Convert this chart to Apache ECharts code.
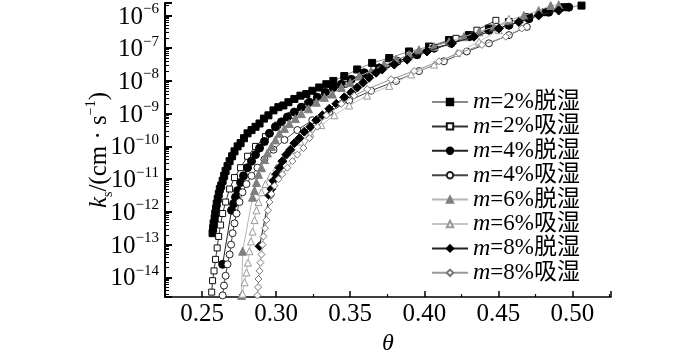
<!DOCTYPE html>
<html><head><meta charset="utf-8">
<script src="https://cdn.jsdelivr.net/npm/echarts@6/dist/echarts.min.js"></script>
<style>html,body{margin:0;padding:0;background:#fff}#c{width:700px;height:361px}</style>
</head><body><div id="c"></div>
<script>
// ---- Data (theta = volumetric water content, ks = hydraulic conductivity, cm/s) ----
const names = ['m=2%脱湿','m=2%吸湿','m=4%脱湿','m=4%吸湿','m=6%脱湿','m=6%吸湿','m=8%脱湿','m=8%吸湿'];
const xTicks = [0.25,0.30,0.35,0.40,0.45,0.50];
const yTickExponents = [-14,-13,-12,-11,-10,-9,-8,-7,-6];

const theta_2_de = [0.2571,0.2575,0.2578,0.2585,0.2589,0.2595,0.2599,0.2606,0.2613,0.2620,0.2629,0.2639,0.2649,0.2659,0.2672,0.2686,0.2703,0.2719,0.2740,0.2760,0.2783,0.2807,0.2834,0.2861,0.2888,0.2918,0.2948,0.2982,0.3015,0.3049,0.3083,0.3123,0.3164,0.3204,0.3245,0.3291,0.3339,0.3386,0.3460,0.3547,0.3648,0.3763,0.3897,0.4032,0.4167,0.4301,0.4436,0.4571,0.4705,0.4819,0.4940,0.5061];
const ks_2_de = [2.24e-13,3.16e-13,4.47e-13,6.31e-13,8.91e-13,1.26e-12,1.78e-12,2.51e-12,3.55e-12,5.01e-12,6.31e-12,8.91e-12,1.26e-11,1.78e-11,2.51e-11,3.55e-11,5.01e-11,7.08e-11,1.0e-10,1.26e-10,1.78e-10,2.51e-10,3.16e-10,3.98e-10,5.01e-10,7.08e-10,8.91e-10,1.26e-9,1.58e-9,1.78e-9,2.24e-9,2.82e-9,3.55e-9,3.98e-9,5.01e-9,6.31e-9,7.94e-9,1.0e-8,1.41e-8,2.24e-8,3.55e-8,5.01e-8,7.94e-8,1.12e-7,1.78e-7,2.51e-7,3.98e-7,6.31e-7,8.91e-7,1.26e-6,1.78e-6,2.0e-6];

const theta_2_ab = [0.2565,0.2571,0.2581,0.2591,0.2602,0.2612,0.2625,0.2639,0.2659,0.2686,0.2719,0.2760,0.2807,0.2861,0.2928,0.3009,0.3103,0.3211,0.3332,0.3460,0.3595,0.3743,0.3897,0.4052,0.4214,0.4355,0.4483];
const ks_2_ab = [3.55e-15,7.94e-15,1.58e-14,3.55e-14,7.94e-14,1.78e-13,3.98e-13,8.91e-13,2.0e-12,5.01e-12,1.12e-11,2.24e-11,5.01e-11,1.0e-10,2.0e-10,4.47e-10,8.91e-10,2.0e-9,3.98e-9,7.94e-9,1.58e-8,3.16e-8,6.31e-8,1.12e-7,2.0e-7,3.55e-7,7.08e-7];

const theta_4_de = [0.2639,0.2699,0.2713,0.2726,0.2740,0.2760,0.2780,0.2807,0.2834,0.2861,0.2888,0.2921,0.2955,0.2995,0.3036,0.3076,0.3123,0.3170,0.3224,0.3278,0.3332,0.3386,0.3440,0.3507,0.3595,0.3696,0.3817,0.3951,0.4066,0.4181,0.4302,0.4437,0.4571,0.4706,0.4840,0.4975];
const ks_4_de = [2.51e-14,1.12e-12,1.78e-12,2.82e-12,4.47e-12,7.94e-12,1.26e-11,2.24e-11,3.55e-11,5.62e-11,8.91e-11,1.41e-10,2.51e-10,3.98e-10,5.62e-10,7.94e-10,1.12e-9,1.58e-9,2.24e-9,3.16e-9,4.47e-9,6.31e-9,7.94e-9,1.12e-8,1.78e-8,2.51e-8,3.98e-8,6.31e-8,1.0e-7,1.41e-7,2.24e-7,3.55e-7,5.01e-7,7.94e-7,1.26e-6,1.78e-6];

const theta_4_ab = [0.2639,0.2648,0.2659,0.2672,0.2686,0.2696,0.2706,0.2719,0.2733,0.2753,0.2773,0.2800,0.2834,0.2874,0.2921,0.2982,0.3056,0.3143,0.3244,0.3359,0.3493,0.3641,0.3810,0.3964,0.4132,0.4287,0.4436,0.4571,0.4692];
const ks_4_ab = [2.82e-15,5.62e-15,1.12e-14,2.51e-14,5.01e-14,1.0e-13,2.24e-13,4.47e-13,8.91e-13,2.0e-12,3.98e-12,7.08e-12,1.26e-11,2.24e-11,3.98e-11,7.94e-11,1.58e-10,3.16e-10,6.31e-10,1.12e-9,2.51e-9,5.01e-9,1.0e-8,2.0e-8,3.98e-8,7.94e-8,1.41e-7,2.51e-7,4.47e-7];

const theta_6_de = [0.2767,0.2774,0.2841,0.2854,0.2867,0.2881,0.2901,0.2921,0.2941,0.2968,0.2995,0.3022,0.3056,0.3089,0.3130,0.3170,0.3218,0.3271,0.3325,0.3379,0.3440,0.3500,0.3561,0.3641,0.3729,0.3810,0.3897,0.3964,0.4066,0.4167,0.4268,0.4369,0.4470,0.4571,0.4672,0.4772,0.4853,0.4907];
const ks_6_de = [2.82e-15,6.31e-14,2.82e-12,4.47e-12,7.94e-12,1.41e-11,2.24e-11,3.98e-11,6.31e-11,1.0e-10,1.58e-10,2.51e-10,3.55e-10,5.01e-10,7.08e-10,1.0e-9,1.41e-9,2.24e-9,3.16e-9,3.98e-9,6.31e-9,8.91e-9,1.41e-8,2.0e-8,3.16e-8,4.47e-8,6.31e-8,8.91e-8,1.12e-7,1.58e-7,2.24e-7,3.16e-7,4.47e-7,7.08e-7,1.0e-6,1.41e-6,2.0e-6,2.1e-6];

const theta_6_ab = [0.2773,0.2787,0.2800,0.2810,0.2820,0.2830,0.2841,0.2854,0.2867,0.2881,0.2901,0.2928,0.2962,0.3002,0.3049,0.3103,0.3164,0.3231,0.3305,0.3393,0.3493,0.3614,0.3763,0.3911,0.4066,0.4221,0.4369,0.4503,0.4571];
const ks_6_ab = [3.16e-15,7.08e-15,1.41e-14,2.82e-14,6.31e-14,1.26e-13,2.51e-13,5.62e-13,1.12e-12,2.0e-12,3.98e-12,7.08e-12,1.26e-11,2.24e-11,3.98e-11,7.94e-11,1.41e-10,2.51e-10,4.47e-10,8.91e-10,1.78e-9,3.55e-9,7.08e-9,1.58e-8,3.16e-8,7.08e-8,1.58e-7,3.55e-7,7.94e-7];

const theta_8_de = [0.2888,0.2955,0.2968,0.2982,0.3002,0.3022,0.3042,0.3069,0.3096,0.3123,0.3157,0.3190,0.3231,0.3271,0.3312,0.3359,0.3406,0.3460,0.3507,0.3548,0.3588,0.3628,0.3675,0.3716,0.3797,0.3884,0.4018,0.4187,0.4335,0.4503,0.4638,0.4772,0.4907];
const ks_8_de = [8.91e-14,3.16e-12,5.01e-12,8.91e-12,1.41e-11,2.24e-11,3.55e-11,5.62e-11,7.94e-11,1.26e-10,1.78e-10,2.82e-10,3.98e-10,6.31e-10,8.91e-10,1.41e-9,2.0e-9,3.16e-9,4.47e-9,6.31e-9,8.91e-9,1.26e-8,1.78e-8,2.24e-8,3.16e-8,4.47e-8,7.94e-8,1.41e-7,2.24e-7,3.98e-7,6.31e-7,1.0e-6,1.41e-6];

const theta_8_ab = [0.2874,0.2878,0.2881,0.2888,0.2894,0.2901,0.2908,0.2915,0.2925,0.2935,0.2945,0.2955,0.2968,0.2989,0.3016,0.3042,0.3076,0.3110,0.3143,0.3184,0.3224,0.3278,0.3339,0.3440,0.3527,0.3615,0.3776,0.3931,0.4099,0.4234,0.4389,0.4550,0.4658];
const ks_8_ab = [2.82e-15,5.01e-15,8.91e-15,1.58e-14,2.82e-14,5.01e-14,1.0e-13,1.78e-13,3.16e-13,5.62e-13,1.12e-12,2.0e-12,3.55e-12,6.31e-12,1.0e-11,1.41e-11,2.24e-11,3.55e-11,5.62e-11,8.91e-11,1.78e-10,3.98e-10,8.91e-10,2.0e-9,3.55e-9,5.62e-9,1.12e-8,2.0e-8,3.98e-8,7.08e-8,1.26e-7,2.24e-7,3.98e-7];

// ---- Build ----
const zip = (xs, ys) => xs.map((x, i) => [x, ys[i]]);
const SERIF = "'Liberation Serif','Times New Roman','Noto Sans CJK SC',serif";
const MIX = "'Liberation Serif','Noto Sans CJK SC',serif";

const styles = [
  {sym:'rect', size:7, fill:'#000', border:'#000', line:'#8a8a8a'},
  {sym:'rect', size:6, fill:'#fff', border:'#111', line:'#333'},
  {sym:'circle', size:8, fill:'#000', border:'#000', line:'#222'},
  {sym:'circle', size:7, fill:'#fff', border:'#222', line:'#444'},
  {sym:'triangle', size:8, fill:'#7f7f7f', border:'#7f7f7f', line:'#b5b5b5'},
  {sym:'triangle', size:7, fill:'#fff', border:'#9a9a9a', line:'#c4c4c4'},
  {sym:'diamond', size:9, fill:'#000', border:'#000', line:'#222'},
  {sym:'diamond', size:7, fill:'#fff', border:'#777', line:'#999'}
];
const dataSets = [
  zip(theta_2_de, ks_2_de), zip(theta_2_ab, ks_2_ab),
  zip(theta_4_de, ks_4_de), zip(theta_4_ab, ks_4_ab),
  zip(theta_6_de, ks_6_de), zip(theta_6_ab, ks_6_ab),
  zip(theta_8_de, ks_8_de), zip(theta_8_ab, ks_8_ab)
];

const series = names.map((n, i) => ({
  name: n, type: 'line', data: dataSets[i],
  symbol: styles[i].sym, symbolSize: styles[i].size, showSymbol: true,
  clip: true, z: 2 + i,
  itemStyle: {color: styles[i].fill, borderColor: styles[i].border, borderWidth: 1, opacity: 1},
  lineStyle: {color: styles[i].line, width: 1},
  emphasis: {disabled: true}
}));

const chart = echarts.init(document.getElementById('c'), null, {renderer: 'canvas'});
chart.setOption({
  animation: false,
  backgroundColor: '#fff',
  grid: {left: 165, right: 89, top: 3, bottom: 48, containLabel: false},
  legend: {
    orient: 'vertical', left: 426, top: 85,
    itemWidth: 36, itemHeight: 8, itemGap: 0.4,
    data: names,
    textStyle: {
      fontFamily: MIX, fontSize: 23, color: '#000', lineHeight: 22,
      rich: {
        i: {fontFamily: SERIF, fontStyle: 'italic', fontSize: 24, color: '#000', lineHeight: 22},
        t: {fontFamily: MIX, fontSize: 23, color: '#000', lineHeight: 22}
      }
    },
    formatter: n => '{i|' + n.slice(0, 1) + '}{t|' + n.slice(1) + '}'
  },
  xAxis: {
    type: 'value', min: 0.225, max: 0.526, minInterval: 0.05, maxInterval: 0.05,
    name: 'θ', nameLocation: 'middle', nameGap: 26,
    nameTextStyle: {fontFamily: SERIF, fontStyle: 'italic', fontSize: 24, color: '#000'},
    axisLine: {show: true, lineStyle: {color: '#000', width: 1.5}},
    axisTick: {show: true, inside: true, length: 6, lineStyle: {color: '#000', width: 1.5}},
    minorTick: {show: true, splitNumber: 2, length: 3, lineStyle: {color: '#000', width: 1.2}},
    splitLine: {show: false},
    axisLabel: {
      showMinLabel: false, showMaxLabel: false, margin: 5,
      fontFamily: SERIF, fontSize: 25, color: '#000',
      formatter: v => xTicks.some(t => Math.abs(t - v) < 1e-9) ? v.toFixed(2) : ''
    }
  },
  yAxis: {
    type: 'log', logBase: 10, min: 2.5e-15, max: 2.4e-6,
    name: '{k|k}{sub|s}{t|/(cm · s}{sup|−1}{t|)}',
    nameLocation: 'middle', nameGap: 53, nameMoveOverlap: false,
    nameTextStyle: {
      fontFamily: SERIF, fontSize: 25, color: '#000',
      rich: {
        k: {fontFamily: SERIF, fontStyle: 'italic', fontSize: 25, color: '#000', verticalAlign: 'bottom', lineHeight: 28},
        sub: {fontFamily: SERIF, fontSize: 14, color: '#000', verticalAlign: 'bottom', lineHeight: 28, padding: [0, 0, -3, 0]},
        t: {fontFamily: SERIF, fontSize: 25, color: '#000', verticalAlign: 'bottom', lineHeight: 28},
        sup: {fontFamily: SERIF, fontSize: 14, color: '#000', verticalAlign: 'top', lineHeight: 28}
      }
    },
    axisLine: {show: true, lineStyle: {color: '#000', width: 2}},
    axisTick: {show: true, inside: true, length: 7, lineStyle: {color: '#000', width: 2}},
    minorTick: {show: true, splitNumber: 9, length: 4, lineStyle: {color: '#000', width: 1}},
    splitLine: {show: false},
    axisLabel: {
      showMinLabel: false, showMaxLabel: false, margin: 6,
      formatter: v => {
        const e = Math.round(Math.log10(v));
        if (!yTickExponents.includes(e) || Math.abs(Math.log10(v) - e) > 1e-6) return '';
        return '{b|10}{s|−' + (-e) + '}';
      },
      rich: {
        b: {fontFamily: SERIF, fontSize: 25, color: '#000', verticalAlign: 'bottom', lineHeight: 28},
        s: {fontFamily: SERIF, fontSize: 15, color: '#000', verticalAlign: 'top', lineHeight: 28}
      }
    }
  },
  series: series
});
</script></body></html>
